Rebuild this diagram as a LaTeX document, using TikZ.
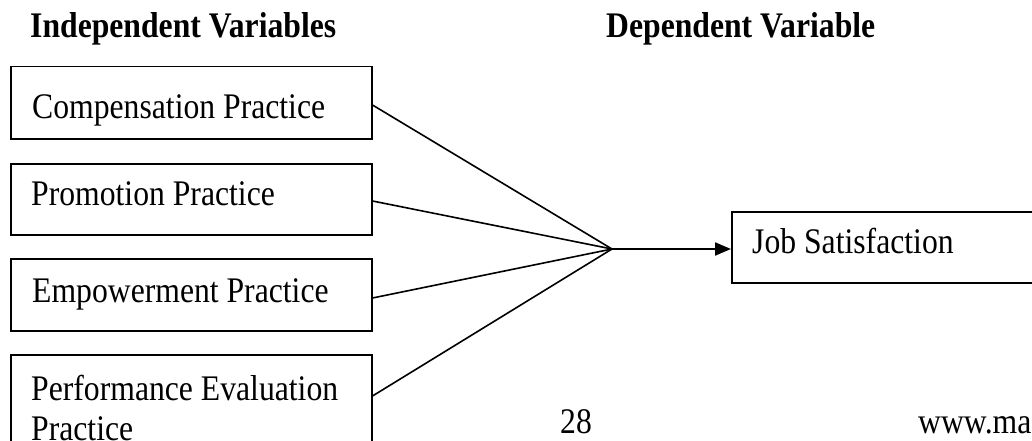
\documentclass[tikz,border=0pt]{standalone}
\usepackage{fontspec}
\setmainfont[FakeStretch=0.88]{Liberation Serif}
\usetikzlibrary{arrows.meta,calc}
\tikzset{
  varbox/.style={draw, line width=1.5pt, rectangle, inner sep=0pt, anchor=north west},
  lbl/.style={anchor=base west, inner sep=0pt, font=\fontsize{36}{54}\selectfont},
  hdr/.style={anchor=base west, inner sep=0pt, font=\fontsize{36}{54}\selectfont\bfseries},
  link/.style={line width=1.6pt},
  arr/.style={line width=2pt, -{Triangle[length=16pt,width=13pt]}}
}
\begin{document}
\begin{tikzpicture}[x=1pt,y=-1pt]
\clip (0,0) rectangle (1032,441);
\fill[white] (0,0) rectangle (1032,441);
% headers
\node[hdr] (hind) at (30,38) {Independent Variables};
\node[hdr] (hdep) at (606,38) {Dependent Variable};
% boxes
\node[varbox, minimum width=361pt, minimum height=72pt] (b1) at (10,66) {};
\node[varbox, minimum width=361pt, minimum height=71pt] (b2) at (10,163) {};
\node[varbox, minimum width=361pt, minimum height=72pt] (b3) at (10,258) {};
\node[varbox, minimum width=361pt, minimum height=120pt] (b4) at (10,354) {};
\node[varbox, minimum width=340pt, minimum height=71pt] (job) at (731,211) {};
% labels
\node[lbl] (t1) at (32,118) {Compensation Practice};
\node[lbl] (t2) at (31,205) {Promotion Practice};
\node[lbl] (t3) at (32,302) {Empowerment Practice};
\node[lbl] (t4a) at (31,400) {Performance Evaluation};
\node[lbl] (t4b) at (31,440) {Practice};
\node[lbl] (tj) at (752,253) {Job Satisfaction};
\node[lbl] (pg) at (560,433) {28};
\node[lbl] (www) at (918,433) {www.ma};
% connectors
\coordinate (m) at (612,249);
\draw[link] ([yshift=-39pt]b1.north east) -- (m);
\draw[link] ([yshift=-38pt]b2.north east) -- (m);
\draw[link] ([yshift=-40pt]b3.north east) -- (m);
\draw[link] ([yshift=-42pt]b4.north east) -- (m);
\draw[arr] (m) -- (m -| job.west);
\end{tikzpicture}
\end{document}
